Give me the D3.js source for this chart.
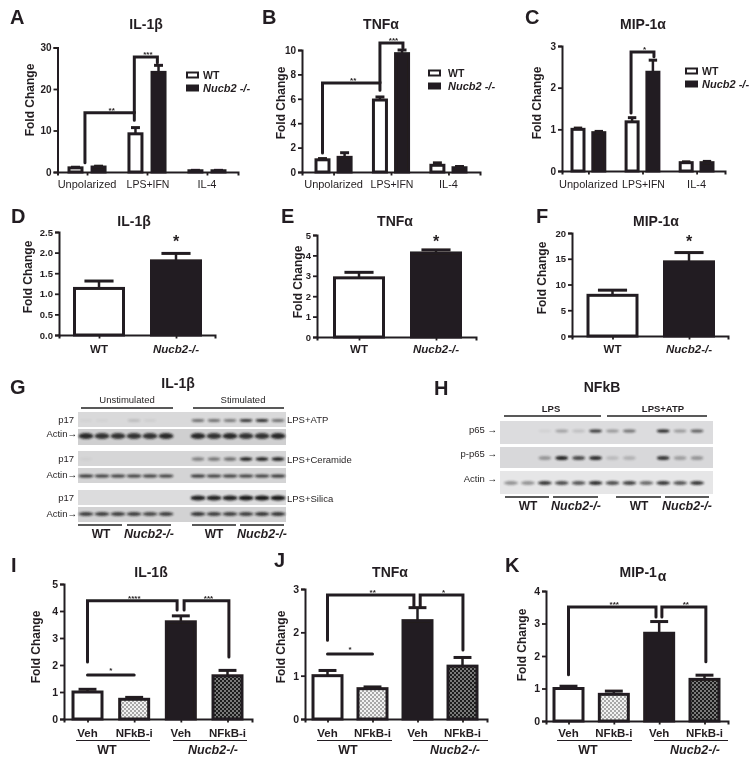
<!DOCTYPE html>
<html><head><meta charset="utf-8">
<script src="https://cdn.jsdelivr.net/npm/d3@7"></script>
<style>
html,body{margin:0;padding:0;background:#fff}
svg{display:block}
text{font-family:"Liberation Sans",Arial,sans-serif;fill:#231f20}
</style></head><body><div id="c"></div>
<script>
// ---------- data ----------
const polarized = ["Unpolarized","LPS+IFN","IL-4"];
const pair = ["WT","Nucb2-/-"];
const treat = ["Veh","NFkB-i","Veh","NFkB-i"];

const aValues=[1,1.2,9.2,24,0.3,0.3];        const aErrors=[0.15,0.2,1.5,1.7,0.1,0.1];
const bValues=[1,1.2,5.9,9.7,0.55,0.35];     const bErrors=[0.1,0.38,0.25,0.3,0.2,0.1];
const cValues=[1,0.92,1.18,2.37,0.2,0.2];    const cErrors=[0.03,0.03,0.1,0.29,0.02,0.03];
const dValues=[1.13,1.8];  const dErrors=[0.18,0.18];
const eValues=[2.9,4.12];  const eErrors=[0.27,0.15];
const fValues=[7.9,14.4];  const fErrors=[1.0,1.8];
const iValues=[1,0.73,3.6,1.6];     const iErrors=[0.1,0.07,0.22,0.2];
const jValues=[1,0.7,2.27,1.22];    const jErrors=[0.12,0.04,0.3,0.2];
const kValues=[1,0.82,2.7,1.28];    const kErrors=[0.07,0.1,0.36,0.13];

const aBrackets=[{x0:.41,x1:2.55,top:14.3,y0:2.2,y1:12.5,label:"**"},{x0:2.55,x1:3.55,top:27.7,y0:14.3,y1:26.3,label:"***"}];
const bBrackets=[{x0:0,x1:2.6,top:7.3,y0:1.55,y1:6.7,label:"**"},{x0:2.6,x1:3.64,top:10.57,y0:7.3,y1:10.16,label:"***"}];
const cBrackets=[{x0:2.55,x1:3.65,top:2.856,y0:1.39,y1:2.74,label:"*"}];
const iBrackets=[{x0:0,x1:1.92,top:4.38,y0:2.11,y1:4.04,label:"****"},{x0:2.07,x1:3.03,top:4.38,y0:4.04,y1:2.3,label:"***"},{x0:0,x1:1,top:1.63,y0:1.63,y1:1.63,label:"*"}];
const jBrackets=[{x0:0,x1:1.92,top:2.86,y0:1.82,y1:2.58,label:"**"},{x0:2.06,x1:3.01,top:2.86,y0:2.58,y1:1.59,label:"*"},{x0:0,x1:1,top:1.5,y0:1.5,y1:1.5,label:"*"}];
const kBrackets=[{x0:0,x1:1.93,top:3.51,y0:1.42,y1:3.2,label:"***"},{x0:2.06,x1:3.03,top:3.51,y0:3.2,y1:1.82,label:"**"}];

const gP17Atp=[.03,.03,0,.14,.05,0,.55,.55,.5,.85,.9,.55];
const gActinAtp=[.9,.85,.85,.85,.85,.9,.9,.85,.9,.85,.85,.9];
const gP17Cer=[.03,0,0,0,0,0,.45,.5,.55,.95,.95,.95];
const gActinCer=[.85,.8,.8,.8,.8,.8,.85,.8,.8,.8,.8,.85];
const gP17Sil=[0,0,0,0,0,0,.95,.95,.95,1,1,1];
const gActinSil=[.8,.8,.8,.8,.75,.8,.85,.8,.8,.8,.85,.85];
const hP65=[0,0,.05,.3,.15,.85,.35,.55,0,.95,.35,.65];
const hPP65=[0,0,.35,.95,.75,.9,.15,.2,0,.85,.3,.35];
const hActin=[.4,.4,.85,.75,.7,.9,.75,.8,.6,.85,.7,.85];

// ---------- drawing ----------
const INK="#231f20";
const svg=d3.select("#c").append("svg").attr("width",750).attr("height",765).attr("viewBox","0 0 750 765");
const defs=svg.append("defs");
defs.append("filter").attr("id","soft").attr("x","-5%").attr("y","-5%").attr("width","110%").attr("height","110%")
  .append("feGaussianBlur").attr("stdDeviation",0.45);
defs.append("filter").attr("id","band").attr("x","-30%").attr("y","-80%").attr("width","160%").attr("height","260%")
  .append("feGaussianBlur").attr("stdDeviation",0.9);
function checker(id,a,b){
  const p=defs.append("pattern").attr("id",id).attr("width",4).attr("height",4).attr("patternUnits","userSpaceOnUse");
  p.append("rect").attr("width",4).attr("height",4).attr("fill",a);
  p.append("rect").attr("width",2).attr("height",2).attr("fill",b);
  p.append("rect").attr("x",2).attr("y",2).attr("width",2).attr("height",2).attr("fill",b);
}
checker("lightCheck","#f2f2f2","#a8a8a8");
checker("darkCheck","#7a7a7a","#1c1c1c");
const root=svg.append("g").attr("filter","url(#soft)");

function T(x,y,s,o={}){
  const t=root.append("text").attr("x",x).attr("y",y).text(s)
    .attr("font-size",o.size||10).attr("text-anchor",o.anchor||"middle");
  if(o.bold)t.attr("font-weight","bold");
  if(o.italic)t.attr("font-style","italic");
  if(o.rotate)t.attr("transform",`rotate(-90 ${x} ${y})`);
  return t;
}
function H(x0,x1,y,w=1.5){root.append("line").attr("x1",x0).attr("x2",x1).attr("y1",y).attr("y2",y).attr("stroke",INK).attr("stroke-width",w);}

function barPanel(p){
  const g=root.append("g");
  const y=d3.scaleLinear().domain([0,p.yMax]).range([p.y0,p.yTop]);
  const n=p.slots[p.slots.length-1];
  const x=d3.scaleLinear().domain([0,n]).range([p.c0,p.c1]);
  const xAxisScale=d3.scaleLinear().domain([x.invert(p.ax),x.invert(p.end)]).range([p.ax,p.end]);
  const ax=g.append("g").attr("transform",`translate(0,${p.y0})`)
    .call(d3.axisBottom(xAxisScale).tickValues(p.tickSlots).tickSize(3.5).tickFormat(""));
  const ay=g.append("g").attr("transform",`translate(${p.ax},0)`)
    .call(d3.axisLeft(y).tickValues(p.ticks).tickSize(4).tickPadding(2).tickFormat(p.fmt||d3.format("d")));
  [ax,ay].forEach(a=>{a.selectAll("path").attr("stroke",INK).attr("stroke-width",2).attr("fill","none");
    a.selectAll("line").attr("stroke",INK).attr("stroke-width",1.8);
    a.selectAll("text").attr("font-size",p.tickSize||10).attr("font-weight","bold").attr("font-family",'"Liberation Sans",Arial,sans-serif').attr("fill",INK);});
  const sw=3;
  p.values.forEach((v,i)=>{
    const cx=x(p.slots[i]), err=p.errors[i];
    const capW=p.w*0.56;
    g.append("line").attr("x1",cx).attr("x2",cx).attr("y1",y(v)).attr("y2",y(v+err)).attr("stroke",INK).attr("stroke-width",2.5);
    g.append("line").attr("x1",cx-capW/2).attr("x2",cx+capW/2).attr("y1",y(v+err)).attr("y2",y(v+err)).attr("stroke",INK).attr("stroke-width",3);
    g.append("rect").attr("x",cx-p.w/2+sw/2).attr("width",p.w-sw)
      .attr("y",y(v)).attr("height",Math.max(0.5,y(0)-y(v)))
      .attr("fill",p.fills[i]).attr("stroke",INK).attr("stroke-width",sw);
  });
  (p.brackets||[]).forEach(b=>{
    const flat=b.y0===b.top&&b.y1===b.top;
    g.append("path").attr("d",d3.line()([[x(b.x0),y(b.y0)],[x(b.x0),y(b.top)],[x(b.x1),y(b.top)],[x(b.x1),y(b.y1)]]))
      .attr("fill","none").attr("stroke",INK).attr("stroke-width",3).attr("stroke-linecap","round").attr("stroke-linejoin","miter");
    T((x(b.x0)+x(b.x1))/2+(flat?0:2),y(b.top)+(flat?-2:0),b.label,{size:8,bold:true});
  });
  T(p.yLabel[0],p.yLabel[1],"Fold Change",{size:12,bold:true,rotate:true});
  return x;
}

const W="#fff",B=INK,L="url(#lightCheck)",D="url(#darkCheck)";
const six=[0,1,2.6,3.6,5.2,6.2], sixFill=[W,B,W,B,W,B], groupTicks=[.5,3.1,5.7];

// A, B, C
[{values:aValues,errors:aErrors,brackets:aBrackets,yMax:30,ticks:[0,10,20,30],y0:172,yTop:47.5,ax:57.5,end:238,c0:75.5,c1:218.5,w:16,yLabel:[34,100]},
 {values:bValues,errors:bErrors,brackets:bBrackets,yMax:10,ticks:[0,2,4,6,8,10],y0:172,yTop:50,ax:302,end:480,c0:322.5,c1:459.5,w:16,yLabel:[285,103]},
 {values:cValues,errors:cErrors,brackets:cBrackets,yMax:3,ticks:[0,1,2,3],y0:171,yTop:46,ax:562,end:725,c0:578,c1:707,w:15,yLabel:[541,103]}]
.forEach(p=>{const x=barPanel({...p,slots:six,fills:sixFill,tickSlots:groupTicks});
  groupTicks.forEach((s,i)=>T(x(s)+(i==1?1:0),188,polarized[i],{size:i==1?10.5:11}));
});
// legends
[[186,75,203],[428,73,448],[685,71,702]].forEach(([sx,sy,tx])=>{
  root.append("rect").attr("x",sx+1).attr("y",sy-2.5).attr("width",11).attr("height",5).attr("fill","#fff").attr("stroke",INK).attr("stroke-width",2);
  root.append("rect").attr("x",sx).attr("y",sy+9.5).attr("width",13).attr("height",7).attr("fill",INK);
  T(tx,sy+3.5,"WT",{size:10.5,bold:true,anchor:"start"});
  T(tx,sy+17,"Nucb2 -/-",{size:11,bold:true,italic:true,anchor:"start"});
});

// D, E, F
[{values:dValues,errors:dErrors,yMax:2.5,ticks:[0,.5,1,1.5,2,2.5],fmt:d3.format(".1f"),y0:335,yTop:232,ax:59,end:215,c0:99,c1:176,yLabel:[32,277]},
 {values:eValues,errors:eErrors,yMax:5,ticks:[0,1,2,3,4,5],y0:337,yTop:235,ax:317,end:476,c0:359,c1:436,yLabel:[302,282]},
 {values:fValues,errors:fErrors,yMax:20,ticks:[0,5,10,15,20],y0:336,yTop:233,ax:572,end:728,c0:612.5,c1:689,yLabel:[546,278]}]
.forEach(p=>{const x=barPanel({...p,slots:[0,1],fills:[W,B],tickSlots:[0,1],w:52,tickSize:9.5});
  T(x(0),353,pair[0],{size:11.5,bold:true});
  T(x(1),353,pair[1],{size:11.5,bold:true,italic:true});
  T(x(1),247,"*",{size:16,bold:true});
});

// I, J, K
[{values:iValues,errors:iErrors,brackets:iBrackets,yMax:5,ticks:[0,1,2,3,4,5],y0:719,yTop:584,ax:64,end:252,c0:87.5,c1:227.5,yLabel:[40,647],u:[[76,150,107],[173,247,213]]},
 {values:jValues,errors:jErrors,brackets:jBrackets,yMax:3,ticks:[0,1,2,3],y0:719,yTop:589,ax:305,end:487,c0:327.5,c1:462.5,yLabel:[285,647],u:[[317,392,348],[413,488,455]]},
 {values:kValues,errors:kErrors,brackets:kBrackets,yMax:4,ticks:[0,1,2,3,4],y0:721,yTop:591,ax:546,end:728,c0:568.5,c1:704.5,yLabel:[526,645],u:[[557,632,588],[654,728,695]]}]
.forEach(p=>{const x=barPanel({...p,slots:[0,1,2,3],fills:[W,L,B,D],tickSlots:[0,1,2,3],w:32,tickSize:10.5});
  treat.forEach((s,i)=>T(x(i),737,s,{size:11.5,bold:true}));
  p.u.forEach(([a,b,c],i)=>{H(a,b,740.5,1.2);T(c,754,pair[i],{size:12.5,bold:true,italic:i==1});});
});

// blots
function blot(x0,x1,y0,y1,bg,values,lane,rx,ry,cy){
  root.append("rect").attr("x",x0).attr("y",y0).attr("width",x1-x0).attr("height",y1-y0).attr("fill",bg);
  root.append("g").selectAll("ellipse").data(values).join("ellipse")
    .attr("cx",(d,i)=>lane(i)).attr("cy",cy).attr("rx",rx).attr("ry",ry)
    .attr("fill","#151515").attr("opacity",d=>d).attr("filter","url(#band)");
}
const gLane=i=>d3.scaleLinear().domain([0,12]).range([86,278])(i<6?i:i+1);
const hLane=d3.scaleLinear().domain([0,11]).range([511,697]);
blot(78,286,412,427,"#d9d9da",gP17Atp,gLane,6.5,1.6,420.5);
blot(78,286,429,445,"#cfcfd0",gActinAtp,gLane,7.5,3,436);
blot(78,286,451,466,"#d6d6d7",gP17Cer,gLane,6.5,1.8,459);
blot(78,286,468,483,"#d4d4d5",gActinCer,gLane,7.5,1.6,476);
blot(78,286,490,505,"#dcdcdd",gP17Sil,gLane,7.5,2.6,498);
blot(78,286,507,522,"#d2d2d3",gActinSil,gLane,7.5,1.9,514);
blot(500,713,421,444,"#dcdcde",hP65,hLane,6.5,1.6,431);
blot(500,713,447,468,"#d8d8da",hPP65,hLane,6.5,2,458);
blot(500,713,471,494,"#e6e6e7",hActin,hLane,7,1.9,483);

// G labels
T(178,388,"IL-1β",{size:14,bold:true});
T(127,403,"Unstimulated",{size:9.5}); H(81,173,408);
T(243,403,"Stimulated",{size:9.5}); H(193,284,408);
[[423,437],[462,478],[501,517]].forEach(([a,b])=>{
  T(74,a,"p17",{size:9.5,anchor:"end"});
  T(77,b,"Actin→",{size:9.5,anchor:"end"});
});
T(287,423,"LPS+ATP",{size:9.5,anchor:"start"});
T(287,463,"LPS+Ceramide",{size:9.5,anchor:"start"});
T(287,502,"LPS+Silica",{size:9.5,anchor:"start"});
[[78,122],[127,171],[192,236],[240,284]].forEach(([a,b])=>H(a,b,525));
[[101,0],[149,1],[214,0],[262,1]].forEach(([x,i])=>T(x,538,pair[i],{size:i==1?12.5:12,bold:true,italic:i==1}));

// H labels
T(602,392,"NFkB",{size:14,bold:true});
T(551,412,"LPS",{size:9.5,bold:true}); H(504,601,416);
T(663,412,"LPS+ATP",{size:9.5,bold:true}); H(607,707,416);
T(497,433,"p65 →",{size:9.5,anchor:"end"});
T(497,457,"p-p65 →",{size:9.5,anchor:"end"});
T(497,482,"Actin →",{size:9.5,anchor:"end"});
[[505,549],[553,598],[616,661],[665,709]].forEach(([a,b])=>H(a,b,497));
[[528,0],[576,1],[639,0],[687,1]].forEach(([x,i])=>T(x,510,pair[i],{size:i==1?12.5:12,bold:true,italic:i==1}));

// titles
[[146,29,"IL-1β"],[381,29,"TNFα"],[643,29,"MIP-1α"],[134,226,"IL-1β"],[395,226,"TNFα"],[656,226,"MIP-1α"],[151,577,"IL-1ß"],[390,577,"TNFα"]]
 .forEach(([x,y,s])=>T(x,y,s,{size:14,bold:true}));
const kt=T(643,577,"MIP-1",{size:14,bold:true});
kt.append("tspan").attr("dy",4).attr("dx",1).text("α");

// panel letters
[["A",10,24],["B",262,24],["C",525,24],["D",11,223],["E",281,223],["F",536,223],["G",10,394],["H",434,395],["I",11,572],["J",274,567],["K",505,572]]
 .forEach(([s,x,y])=>T(x,y,s,{size:20,bold:true,anchor:"start"}));
</script></body></html>
